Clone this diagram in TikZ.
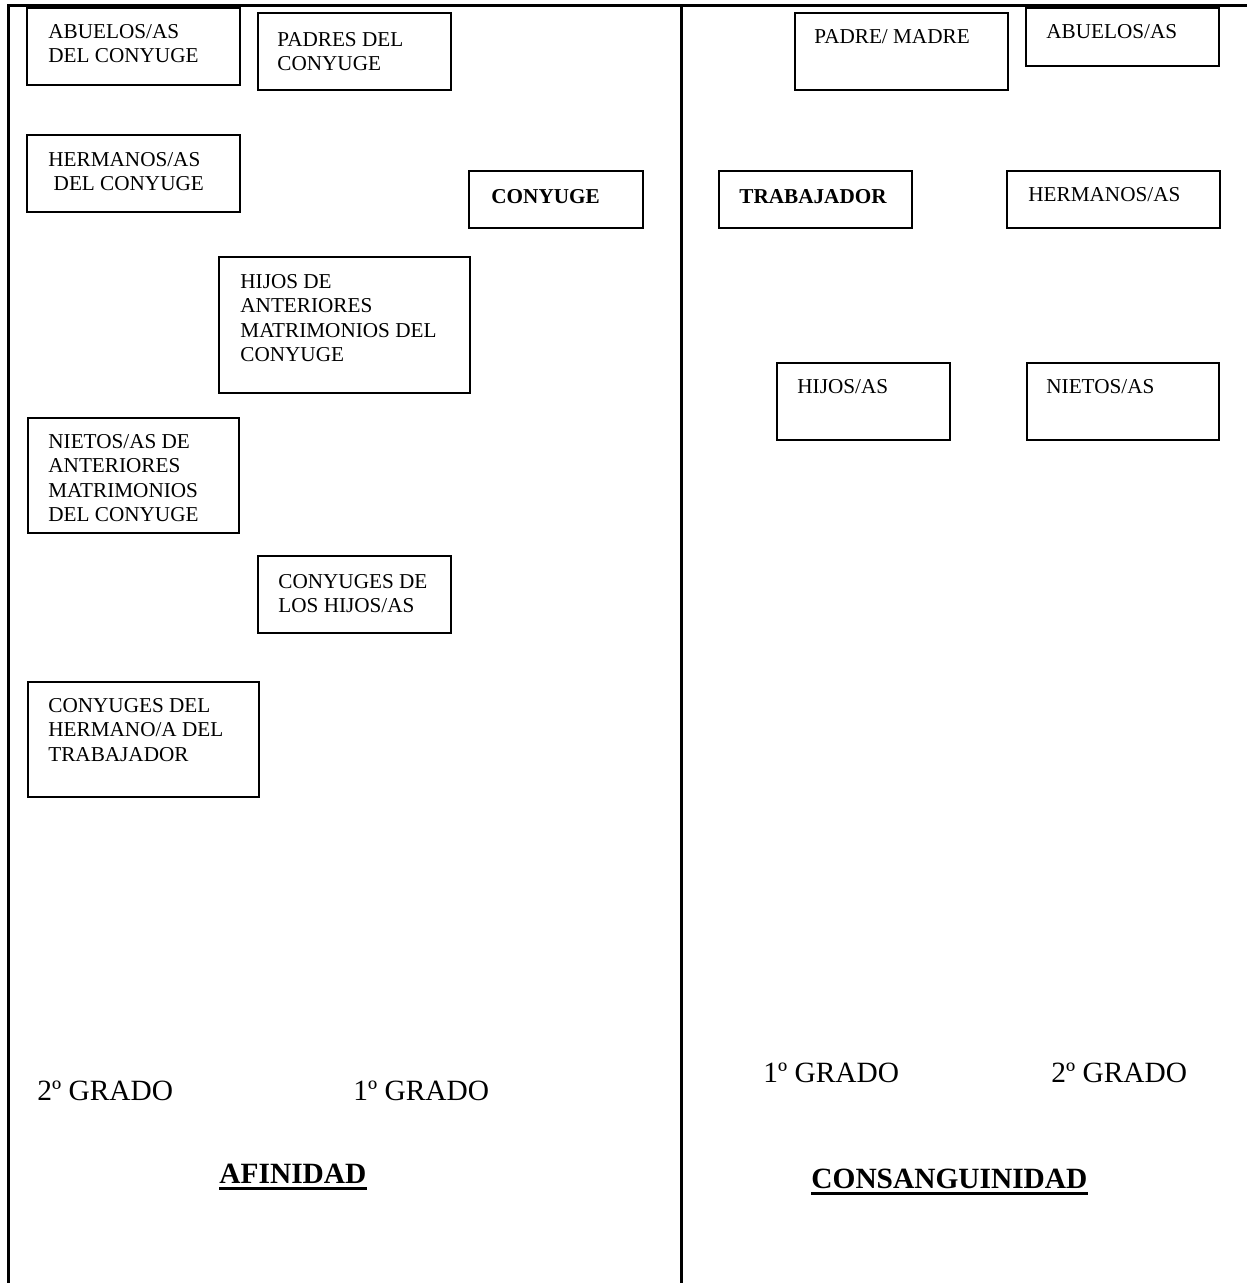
\documentclass[tikz,border=0pt]{standalone}
\usepackage{fontspec}
\setmainfont{Liberation Serif}
\usetikzlibrary{positioning,fit}

\begin{document}
\begin{tikzpicture}[x=0.5pt, y=-0.5pt,
    box/.style={draw, line width=1pt, inner sep=0pt},
    txt/.style={inner sep=0pt, align=left, font=\fontsize{10.6}{12.2}\selectfont},
    txtb/.style={txt, font=\fontsize{10.6}{12.2}\selectfont\bfseries},
    grado/.style={inner sep=0pt, anchor=base west, font=\fontsize{14.7}{17}\selectfont},
    titulo/.style={grado, font=\fontsize{14.7}{17}\selectfont\bfseries},
    marco/.style={line width=1.5pt}]
    \useasboundingbox (0,0) rectangle (1247,1283);

    % Table frame
    \draw[marco] (8,1283) -- (8,5.5) -- (1247,5.5);
    \draw[marco] (681,5.5) -- (681,1283);

    % Afinidad boxes
    \node[box, fit={(27,8) (240,85)}] (abcony) {};
    \node[txt, below right=8.5pt and 11pt of abcony.north west] (abcony-t) {ABUELOS/AS\\DEL CONYUGE};
    \node[box, fit={(258,13) (451,90)}] (padcony) {};
    \node[txt, below right=10pt and 10pt of padcony.north west] (padcony-t) {PADRES DEL\\CONYUGE};
    \node[box, fit={(27,135) (240,212)}] (hercony) {};
    \node[txt, below right=9pt and 11pt of hercony.north west] (hercony-t) {HERMANOS/AS\\\hspace*{0.25em}DEL CONYUGE};
    \node[box, fit={(469,171) (643,228)}] (cony) {};
    \node[txtb, below right=9.5pt and 11.5pt of cony.north west] (cony-t) {CONYUGE};
    \node[box, fit={(219,257) (470,393)}] (hijcony) {};
    \node[txt, below right=9pt and 11pt of hijcony.north west] (hijcony-t) {HIJOS DE\\ANTERIORES\\MATRIMONIOS DEL\\CONYUGE};
    \node[box, fit={(28,418) (239,533)}] (nietcony) {};
    \node[txt, below right=8.5pt and 10.5pt of nietcony.north west] (nietcony-t) {NIETOS/AS DE\\ANTERIORES\\MATRIMONIOS\\DEL CONYUGE};
    \node[box, fit={(258,556) (451,633)}] (conhij) {};
    \node[txt, below right=9.5pt and 10.5pt of conhij.north west] (conhij-t) {CONYUGES DE\\LOS HIJOS/AS};
    \node[box, fit={(28,682) (259,797)}] (conher) {};
    \node[txt, below right=8.5pt and 10.5pt of conher.north west] (conher-t) {CONYUGES DEL\\HERMANO/A DEL\\TRABAJADOR};

    % Consanguinidad boxes
    \node[box, fit={(795,13) (1008,90)}] (padre) {};
    \node[txt, below right=8.5pt and 10pt of padre.north west] (padre-t) {PADRE/ MADRE};
    \node[box, fit={(1026,8) (1219,66)}] (abuelos) {};
    \node[txt, below right=8.5pt and 10.5pt of abuelos.north west] (abuelos-t) {ABUELOS/AS};
    \node[box, fit={(719,171) (912,228)}] (trab) {};
    \node[txtb, below right=9.5pt and 10.5pt of trab.north west] (trab-t) {TRABAJADOR};
    \node[box, fit={(1007,171) (1220,228)}] (herm) {};
    \node[txt, below right=8.5pt and 11pt of herm.north west] (herm-t) {HERMANOS/AS};
    \node[box, fit={(777,363) (950,440)}] (hijos) {};
    \node[txt, below right=8.5pt and 10.5pt of hijos.north west] (hijos-t) {HIJOS/AS};
    \node[box, fit={(1027,363) (1219,440)}] (nietos) {};
    \node[txt, below right=8.5pt and 10pt of nietos.north west] (nietos-t) {NIETOS/AS};

    % Grados
    \node[grado] (g2afin) at (37,1100) {2º GRADO};
    \node[grado] (g1afin) at (353,1100) {1º GRADO};
    \node[grado] (g1cons) at (763,1082) {1º GRADO};
    \node[grado] (g2cons) at (1051,1082) {2º GRADO};

    % Titles, underlined
    \node[titulo] (afin) at (219,1183) {AFINIDAD};
    \node[titulo] (consan) at (811,1188) {CONSANGUINIDAD};
    \draw[line width=1.5pt] ([yshift=-2.7pt]afin.base west) -- ([yshift=-2.7pt]afin.base east);
    \draw[line width=1.5pt] ([yshift=-2.5pt]consan.base west) -- ([yshift=-2.5pt]consan.base east);
\end{tikzpicture}
\end{document}
